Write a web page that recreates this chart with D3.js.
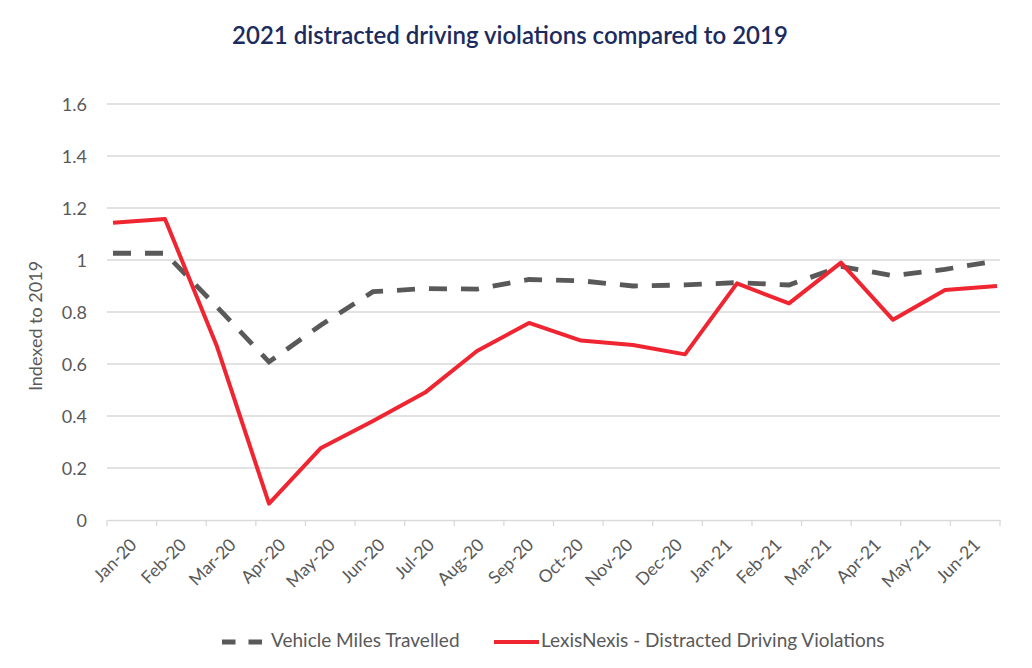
<!DOCTYPE html>
<html><head><meta charset="utf-8">
<script src="https://cdn.jsdelivr.net/npm/d3@7"></script>
<style>body{margin:0;background:#fff;} text{font-family:"Lato","Noto Sans",sans-serif;}</style>
</head><body><svg id="c" width="1032" height="668"></svg>
<script>
const months = ["Jan-20","Feb-20","Mar-20","Apr-20","May-20","Jun-20","Jul-20","Aug-20","Sep-20","Oct-20","Nov-20","Dec-20","Jan-21","Feb-21","Mar-21","Apr-21","May-21","Jun-21"];
const vehicleMiles = [1.026,1.026,0.82,0.608,0.75,0.878,0.89,0.888,0.925,0.92,0.9,0.904,0.913,0.904,0.975,0.94,0.964,0.997];
const violations = [1.143,1.158,0.667,0.063,0.277,0.381,0.49,0.65,0.758,0.69,0.673,0.637,0.91,0.833,0.99,0.77,0.885,0.9];
const yTicks = [0,0.2,0.4,0.6,0.8,1,1.2,1.4,1.6];
const seriesNames = ["Vehicle Miles Travelled","LexisNexis - Distracted Driving Violations"];
const titleText = "2021 distracted driving violations compared to 2019";
const yLabel = "Indexed to 2019";

const FONT = "Lato, 'Noto Sans', sans-serif";
const svg = d3.select("#c");
const y = d3.scaleLinear().domain([0,1.6]).range([520,104]);
const xBand = d3.scaleBand().domain(months).range([107,1000]);
const xPt = d3.scalePoint().domain(months).range([113,997]);

svg.append("text").attr("x",510).attr("y",44).attr("text-anchor","middle")
  .attr("font-size",24).attr("font-weight",600).attr("fill","#1c2b5e").text(titleText);

// grid
svg.append("g").selectAll("line").data(yTicks.filter(d=>d>0)).join("line")
  .attr("x1",107).attr("x2",1000).attr("y1",d=>y(d)).attr("y2",d=>y(d))
  .attr("stroke","#d9d9d9").attr("stroke-width",1.3);

// y axis labels
const ya = svg.append("g").attr("transform","translate(107,0)")
  .call(d3.axisLeft(y).tickValues(yTicks).tickSize(0).tickPadding(20).tickFormat(d3.format("~g")));
ya.select(".domain").remove();
ya.selectAll("text").attr("font-size",18).attr("fill","#595959").attr("dy","0.36em").style("font-family",FONT);

svg.append("text").attr("transform","translate(42,326) rotate(-90)").attr("text-anchor","middle")
  .attr("font-size",18).attr("fill","#595959").text(yLabel);

// x axis
const xa = svg.append("g").attr("transform","translate(0,520)")
  .call(d3.axisBottom(xBand).tickSize(0).tickPadding(0));
xa.select(".domain").attr("stroke","#d9d9d9").attr("stroke-width",1.5);
svg.append("g").selectAll("line").data(d3.range(months.length+1)).join("line")
  .attr("x1",i=>xBand.range()[0]+i*xBand.step()).attr("x2",i=>xBand.range()[0]+i*xBand.step())
  .attr("y1",520).attr("y2",526).attr("stroke","#d9d9d9").attr("stroke-width",1.3);
xa.selectAll(".tick text").attr("font-size",17.5).attr("fill","#595959")
  .style("font-family",FONT)
  .attr("text-anchor","end").attr("dy",0).attr("dx",0).attr("y",0)
  .attr("transform","translate(6,26) rotate(-45)");

const line = d3.line().x((d,i)=>xPt(months[i])).y(d=>y(d));
svg.append("path").datum(vehicleMiles).attr("d",line).attr("fill","none")
  .attr("stroke","#595959").attr("stroke-width",4.8).attr("stroke-dasharray","18,14");
svg.append("path").datum(violations).attr("d",line).attr("fill","none")
  .attr("stroke","#ef2531").attr("stroke-width",4).attr("stroke-linejoin","round");

// legend
const lg = svg.append("g");
lg.append("line").attr("x1",222).attr("x2",262).attr("y1",642).attr("y2",642)
  .attr("stroke","#595959").attr("stroke-width",4.8).attr("stroke-dasharray","13.5,13");
lg.append("text").attr("x",271).attr("y",647).attr("font-size",19).attr("fill","#595959").text(seriesNames[0]);
lg.append("line").attr("x1",494).attr("x2",539).attr("y1",642).attr("y2",642)
  .attr("stroke","#ef2531").attr("stroke-width",4);
lg.append("text").attr("x",541).attr("y",647).attr("font-size",19).attr("fill","#595959").text(seriesNames[1]);
</script></body></html>
